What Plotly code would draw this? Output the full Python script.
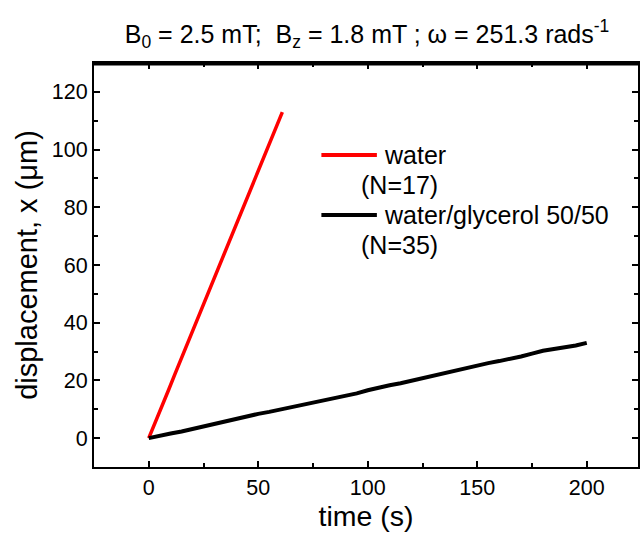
import plotly.graph_objects as go

# ---- data ----
water_t = [0, 3, 6, 9, 12, 15, 18, 21, 24, 27, 30, 33, 36, 39, 42, 45, 48, 51, 54, 57, 60, 61]
water_x = [0, 5.3, 11.1, 16.6, 22.3, 27.9, 33.4, 39.0, 44.7, 50.2, 55.8, 61.3, 66.8, 72.5,
           77.9, 83.4, 88.9, 94.5, 100.1, 105.6, 111.2, 113.0]

glyc_t = [0, 5, 10, 15, 20, 25, 30, 35, 40, 45, 50, 55, 60, 65, 70, 75, 80, 85, 90, 95, 100,
          105, 110, 115, 120, 125, 130, 135, 140, 145, 150, 155, 160, 165, 170, 175, 180,
          185, 190, 195, 200]
glyc_x = [0, 0.9, 1.6, 2.3, 3.2, 4.0, 4.9, 5.7, 6.6, 7.4, 8.4, 9.1, 9.9, 10.6, 11.4, 12.3,
          13.1, 13.8, 14.7, 15.5, 16.6, 17.6, 18.3, 19.0, 19.9, 20.8, 21.7, 22.6, 23.4, 24.1,
          25.2, 26.0, 26.7, 27.4, 28.3, 29.3, 30.3, 30.9, 31.4, 32.1, 33.0]

series_names = ["water", "water/glycerol 50/50"]
series_counts = ["(N=17)", "(N=35)"]
series_colors = ["#ff0000", "#000000"]

x_ticks = [0, 50, 100, 150, 200]
y_ticks = [0, 20, 40, 60, 80, 100, 120]
x_range = [-25, 223.4]
y_range = [-10, 130]

FONT = "Liberation Sans, Arial, sans-serif"

fig = go.Figure()
fig.add_trace(go.Scatter(x=water_t, y=water_x, mode="lines", name=series_names[0],
                         line=dict(color=series_colors[0], width=3.5), showlegend=False))
fig.add_trace(go.Scatter(x=glyc_t, y=glyc_x, mode="lines", name=series_names[1],
                         line=dict(color=series_colors[1], width=4), showlegend=False))

# top edge of the frame (right end runs off the picture, as in the reference)
fig.add_shape(type="line", xref="paper", yref="paper", x0=0, x1=1.01, y0=0.997, y1=0.997,
              line=dict(color="black", width=2.5), layer="above")

# manual legend (key lines + text)
leg_y = [0.772, 0.624]
for i in range(2):
    fig.add_shape(type="line", xref="paper", yref="paper",
                  x0=0.418, x1=0.520, y0=leg_y[i], y1=leg_y[i],
                  line=dict(color=series_colors[i], width=4))
    fig.add_annotation(xref="paper", yref="paper", x=0.530, y=leg_y[i], text=series_names[i],
                       showarrow=False, xanchor="left", yanchor="middle",
                       font=dict(family=FONT, size=25, color="black"))
    fig.add_annotation(xref="paper", yref="paper", x=0.488, y=leg_y[i] - 0.074,
                       text=series_counts[i], showarrow=False, xanchor="left",
                       yanchor="middle", font=dict(family=FONT, size=25, color="black"))

axis_common = dict(ticks="inside", ticklen=6, tickwidth=1.5, tickcolor="black",
                   showline=True, linewidth=2, linecolor="black", showgrid=False,
                   zeroline=False, mirror="allticks",
                   tickfont=dict(family=FONT, size=21.5, color="black"))

fig.update_layout(
    width=640, height=538,
    paper_bgcolor="white", plot_bgcolor="white",
    margin=dict(l=94, r=0, t=63, b=71),
    title=dict(text="B<sub>0</sub> = 2.5 mT;&nbsp; B<sub>z</sub> = 1.8 mT ; ω = 251.3 rads<sup>-1</sup>",
               x=0.5735, xanchor="center", xref="container", y=1 - 34 / 538, yanchor="middle",
               yref="container", font=dict(family=FONT, size=25, color="black")),
    xaxis=dict(range=x_range, tickvals=x_ticks,
               minor=dict(dtick=25, tick0=0, ticks="inside", ticklen=4, tickcolor="black"),
               title=dict(text="time (s)", font=dict(family=FONT, size=28.5, color="black"),
                          standoff=6),
               **axis_common),
    yaxis=dict(range=y_range, tickvals=y_ticks,
               minor=dict(dtick=10, tick0=0, ticks="inside", ticklen=4, tickcolor="black"),
               title=dict(text="displacement, x (μm)",
                          font=dict(family=FONT, size=29, color="black"), standoff=6),
               **axis_common),
)

fig.write_html("out.html", config={"displayModeBar": False},
               post_script="document.body.style.margin='0';")
